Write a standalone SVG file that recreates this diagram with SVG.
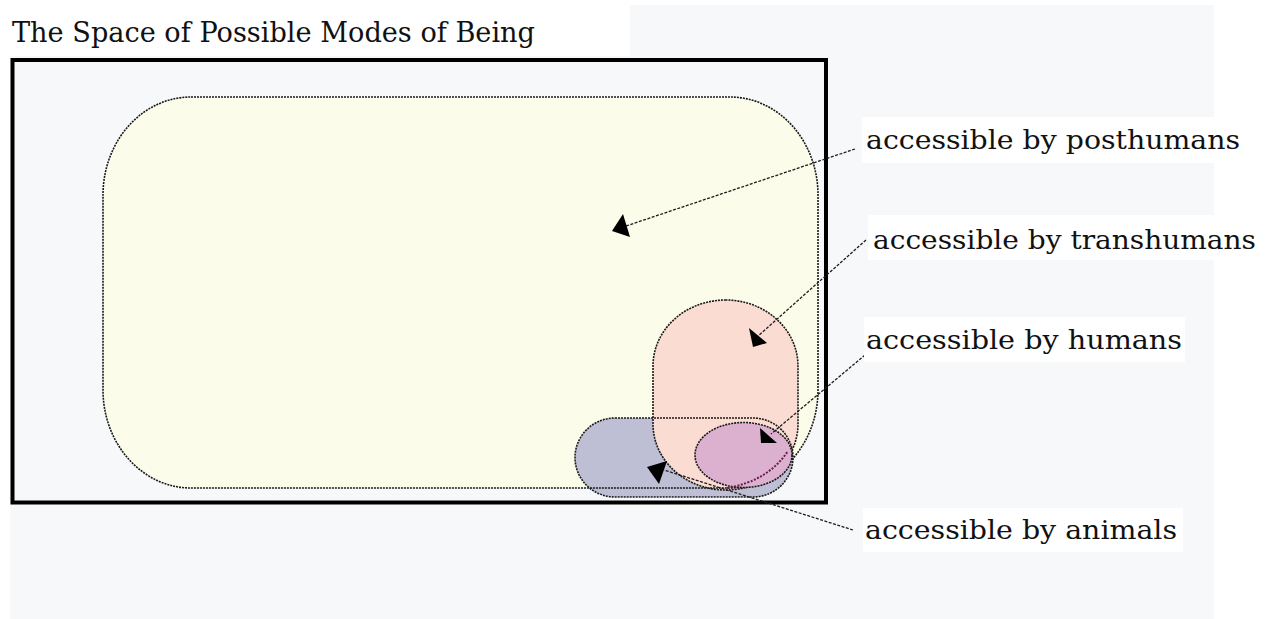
<svg xmlns="http://www.w3.org/2000/svg" width="1272" height="619" viewBox="0 0 1272 619">
<style>
.lbl{font-family:"DejaVu Serif","Liberation Serif",serif;font-size:26px;fill:#111}
.ttl{font-family:"DejaVu Serif","Liberation Serif",serif;font-size:27px;fill:#111}
.outline{fill:none;stroke:#1a1a1a;stroke-width:1.6;stroke-dasharray:2 1}
.conn{fill:none;stroke:#1e1e1e;stroke-width:1.3;stroke-dasharray:3 1.5}
.head{fill:#000;stroke:none}
.wbox{fill:#ffffff}
</style>
<rect x="0" y="0" width="1272" height="619" fill="#ffffff"/>
<rect x="10" y="5" width="1204" height="614" fill="#f7f8fa"/>
<g id="title">
<rect class="wbox" x="10" y="5" width="620" height="51"/>
<text class="ttl" x="12" y="42" textLength="523" lengthAdjust="spacingAndGlyphs">The Space of Possible Modes of Being</text>
</g>
<g id="space">
<rect x="12.5" y="60" width="813.5" height="442.5" fill="none" stroke="#000" stroke-width="4"/>
</g>
<g id="posthumans">
<rect x="103" y="97" width="715" height="391" rx="88" ry="98" fill="#fbfcea"/>
</g>
<g id="animals">
<rect x="575" y="418" width="218" height="79" rx="40" ry="39.5" fill="#bebfd4"/>
</g>
<g id="transhumans">
<rect x="653" y="300" width="145" height="190" rx="72.5" ry="66" fill="#fadcd2"/>
</g>
<g id="outlines">
<rect class="outline" x="103" y="97" width="715" height="391" rx="88" ry="98"/>
<rect class="outline" x="575" y="418" width="218" height="79" rx="40" ry="39.5"/>
<rect class="outline" x="653" y="300" width="145" height="190" rx="72.5" ry="66"/>
</g>
<g id="humans">
<ellipse cx="743.5" cy="455" rx="48.5" ry="32.5" fill="#dcb0cf"/>
<ellipse class="outline" cx="743.5" cy="455" rx="48.5" ry="32.5"/>
<path d="M 727 488 Q 768 481 788 451" fill="none" stroke="#6a1a4e" stroke-width="2" stroke-dasharray="2 1.5"/>
</g>
<g id="connectors">
<path class="conn" d="M 855 149 L 626 226"/>
<polygon class="head" points="612,231 623,214 630,237"/>
<path class="conn" d="M 866 240 L 758 336"/>
<polygon class="head" points="753,347 749,328 767,343"/>
<path class="conn" d="M 865 355 L 771 434"/>
<polygon class="head" points="761,443 760,428 777,443"/>
<path class="conn" d="M 853 530 L 664 470"/>
<polygon class="head" points="647,467 667,461 659,484"/>
</g>
<g id="label-posthumans">
<rect class="wbox" x="862" y="117" width="352" height="46"/>
<text class="lbl" x="866" y="149" textLength="374" lengthAdjust="spacingAndGlyphs">accessible by posthumans</text>
</g>
<g id="label-transhumans">
<rect class="wbox" x="868" y="215" width="346" height="45"/>
<text class="lbl" x="873" y="249" textLength="383" lengthAdjust="spacingAndGlyphs">accessible by transhumans</text>
</g>
<g id="label-humans">
<rect class="wbox" x="864" y="317" width="321" height="45"/>
<text class="lbl" x="866" y="349" textLength="316" lengthAdjust="spacingAndGlyphs">accessible by humans</text>
</g>
<g id="label-animals">
<rect class="wbox" x="863" y="508" width="320" height="44"/>
<text class="lbl" x="865" y="539" textLength="312" lengthAdjust="spacingAndGlyphs">accessible by animals</text>
</g>
</svg>
